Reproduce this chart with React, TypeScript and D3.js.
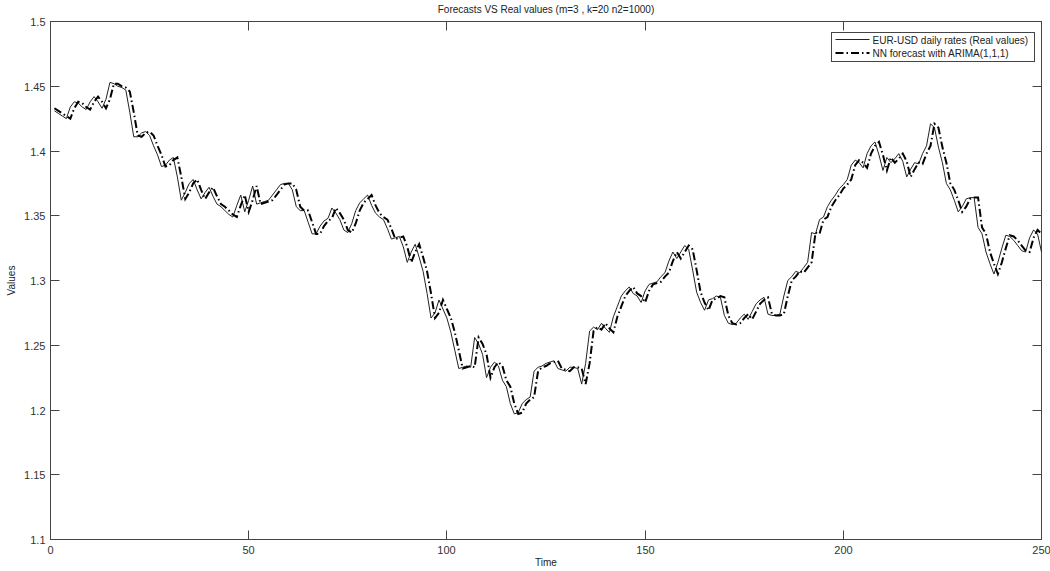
import { useEffect, useRef } from "react";
import * as d3 from "d3";

// EUR-USD daily rates (real values), t = 1..250
const realValues = [
  1.431, 1.429, 1.427, 1.425, 1.434, 1.438, 1.437, 1.434, 1.432, 1.438,
  1.442, 1.438, 1.433, 1.44, 1.453, 1.452, 1.45, 1.449, 1.447, 1.43,
  1.411, 1.411, 1.414, 1.415, 1.412, 1.404, 1.397, 1.388, 1.389, 1.393,
  1.395, 1.38, 1.362, 1.368, 1.375, 1.378, 1.37, 1.363, 1.368, 1.372,
  1.365, 1.359, 1.357, 1.354, 1.351, 1.349, 1.358, 1.366, 1.353, 1.362,
  1.373, 1.359, 1.36, 1.361, 1.362, 1.366, 1.37, 1.374, 1.375, 1.375,
  1.37, 1.357, 1.354, 1.354, 1.345, 1.336, 1.336, 1.342, 1.346, 1.348,
  1.356, 1.352, 1.347, 1.339, 1.337, 1.344, 1.354, 1.36, 1.363, 1.366,
  1.358, 1.352, 1.349, 1.347, 1.34, 1.332, 1.333, 1.334, 1.326, 1.314,
  1.322, 1.328, 1.318, 1.307, 1.29, 1.271, 1.275, 1.285, 1.278, 1.271,
  1.26, 1.246, 1.232, 1.233, 1.234, 1.233, 1.256, 1.251, 1.243, 1.225,
  1.233, 1.237, 1.234, 1.223, 1.218, 1.205, 1.197, 1.198, 1.205, 1.208,
  1.21, 1.23, 1.233, 1.234, 1.236, 1.237, 1.238, 1.232, 1.231, 1.23,
  1.233, 1.233, 1.232, 1.22, 1.236, 1.261, 1.264, 1.262, 1.267, 1.263,
  1.26, 1.272, 1.28, 1.288, 1.292, 1.295, 1.29, 1.288, 1.283, 1.292,
  1.297, 1.298, 1.299, 1.303, 1.306, 1.315, 1.322, 1.317, 1.322, 1.327,
  1.324, 1.308, 1.291, 1.283, 1.277, 1.285, 1.286, 1.288, 1.287, 1.273,
  1.267, 1.266, 1.267, 1.271, 1.274, 1.27, 1.276, 1.282, 1.285, 1.287,
  1.274, 1.273, 1.273, 1.274, 1.288, 1.3, 1.303, 1.307, 1.306, 1.31,
  1.314, 1.337, 1.336, 1.347, 1.349, 1.357, 1.362, 1.366, 1.371, 1.374,
  1.378, 1.389, 1.393, 1.391, 1.387, 1.398, 1.404, 1.407, 1.397, 1.385,
  1.395, 1.391, 1.394, 1.398, 1.392, 1.38, 1.386, 1.391, 1.39, 1.398,
  1.404, 1.421, 1.418, 1.403, 1.391, 1.375, 1.37, 1.362, 1.353, 1.357,
  1.363, 1.364, 1.364, 1.341, 1.336, 1.322, 1.313, 1.305, 1.314, 1.325,
  1.335, 1.334, 1.331, 1.327, 1.323, 1.322, 1.333, 1.339, 1.336, 1.322,
];

// NN forecast with ARIMA(1,1,1), t = 1..250
const forecastValues = [
  1.433, 1.431, 1.429, 1.427, 1.425, 1.433, 1.438, 1.437, 1.434, 1.432,
  1.438, 1.442, 1.438, 1.433, 1.44, 1.452, 1.452, 1.45, 1.449, 1.446,
  1.43, 1.412, 1.411, 1.414, 1.415, 1.412, 1.404, 1.397, 1.388, 1.389,
  1.393, 1.395, 1.38, 1.363, 1.368, 1.375, 1.378, 1.37, 1.363, 1.368,
  1.372, 1.365, 1.359, 1.357, 1.354, 1.351, 1.349, 1.358, 1.366, 1.353,
  1.362, 1.373, 1.359, 1.36, 1.361, 1.362, 1.366, 1.37, 1.374, 1.375,
  1.375, 1.37, 1.357, 1.354, 1.354, 1.345, 1.336, 1.336, 1.342, 1.346,
  1.348, 1.356, 1.352, 1.347, 1.339, 1.337, 1.344, 1.354, 1.36, 1.363,
  1.366, 1.358, 1.352, 1.349, 1.347, 1.34, 1.332, 1.333, 1.334, 1.326,
  1.314, 1.322, 1.328, 1.318, 1.307, 1.29, 1.271, 1.275, 1.285, 1.278,
  1.271, 1.26, 1.246, 1.232, 1.233, 1.234, 1.233, 1.256, 1.251, 1.243,
  1.225, 1.233, 1.237, 1.234, 1.223, 1.218, 1.205, 1.197, 1.198, 1.205,
  1.208, 1.21, 1.23, 1.233, 1.234, 1.236, 1.237, 1.238, 1.232, 1.231,
  1.23, 1.233, 1.233, 1.232, 1.22, 1.236, 1.261, 1.264, 1.262, 1.267,
  1.263, 1.26, 1.272, 1.28, 1.288, 1.292, 1.295, 1.29, 1.288, 1.283,
  1.292, 1.297, 1.298, 1.299, 1.303, 1.306, 1.315, 1.322, 1.317, 1.322,
  1.327, 1.324, 1.308, 1.291, 1.283, 1.277, 1.285, 1.286, 1.288, 1.287,
  1.273, 1.267, 1.266, 1.267, 1.271, 1.274, 1.27, 1.276, 1.282, 1.285,
  1.287, 1.274, 1.273, 1.273, 1.274, 1.288, 1.3, 1.303, 1.307, 1.306,
  1.31, 1.314, 1.337, 1.336, 1.347, 1.349, 1.357, 1.362, 1.366, 1.371,
  1.374, 1.378, 1.389, 1.393, 1.391, 1.387, 1.398, 1.404, 1.407, 1.397,
  1.385, 1.395, 1.391, 1.394, 1.398, 1.392, 1.38, 1.386, 1.391, 1.39,
  1.398, 1.404, 1.421, 1.418, 1.403, 1.391, 1.375, 1.37, 1.362, 1.353,
  1.357, 1.363, 1.364, 1.364, 1.341, 1.336, 1.322, 1.313, 1.305, 1.314,
  1.325, 1.335, 1.334, 1.331, 1.327, 1.323, 1.322, 1.333, 1.339, 1.336,
];

const xTicks = [0, 50, 100, 150, 200, 250];
const yTicks = [1.1, 1.15, 1.2, 1.25, 1.3, 1.35, 1.4, 1.45, 1.5];
const legendLabels = ["EUR-USD daily rates (Real values)", "NN forecast with ARIMA(1,1,1)"];

export default function App() {
  const svgRef = useRef<SVGSVGElement | null>(null);

  useEffect(() => {
    if (!svgRef.current) return;
    const root = d3.select(svgRef.current);
    root.selectAll("*").remove();

    const width = 1050;
    const height = 571;
    const margin = { top: 21.5, right: 8.5, bottom: 31.5, left: 50.5 };
    const innerWidth = width - margin.left - margin.right;
    const innerHeight = height - margin.top - margin.bottom;
    const font = "Arial, 'Liberation Sans', sans-serif";
    const axisColor = "#444";

    root.append("rect").attr("width", width).attr("height", height).attr("fill", "#fff");

    const svg = root.append("g").attr("transform", `translate(${margin.left},${margin.top})`);

    const x = d3.scaleLinear().domain([0, 250]).range([0, innerWidth]);
    const y = d3.scaleLinear().domain([1.1, 1.5]).range([innerHeight, 0]);

    // axes box
    svg.append("rect")
      .attr("width", innerWidth)
      .attr("height", innerHeight)
      .attr("fill", "none")
      .attr("stroke", axisColor)
      .attr("stroke-width", 1);

    // ticks (inward, mirrored on all sides)
    const tickLen = 9;
    xTicks.forEach((t) => {
      const px = Math.round(x(t));
      svg.append("line").attr("x1", px).attr("x2", px).attr("y1", innerHeight).attr("y2", innerHeight - tickLen).attr("stroke", axisColor);
      svg.append("line").attr("x1", px).attr("x2", px).attr("y1", 0).attr("y2", tickLen).attr("stroke", axisColor);
      svg.append("text")
        .attr("x", px)
        .attr("y", innerHeight + 14)
        .attr("text-anchor", "middle")
        .attr("font-family", font)
        .attr("font-size", "11px")
        .attr("fill", "#333")
        .text(t);
    });
    yTicks.forEach((t) => {
      const py = Math.round(y(t));
      svg.append("line").attr("x1", 0).attr("x2", tickLen).attr("y1", py).attr("y2", py).attr("stroke", axisColor);
      svg.append("line").attr("x1", innerWidth).attr("x2", innerWidth - tickLen).attr("y1", py).attr("y2", py).attr("stroke", axisColor);
      svg.append("text")
        .attr("x", -5)
        .attr("y", py + 4)
        .attr("text-anchor", "end")
        .attr("font-family", font)
        .attr("font-size", "11px")
        .attr("fill", "#333")
        .text(d3.format("~g")(t));
    });

    const line = d3.line<number>()
      .x((_, i) => x(i + 1))
      .y((d) => y(d));

    // real values: thin solid
    svg.append("path")
      .datum(realValues)
      .attr("d", line)
      .attr("fill", "none")
      .attr("stroke", "#222")
      .attr("stroke-width", 1);

    // forecast: thick dash-dot
    svg.append("path")
      .datum(forecastValues)
      .attr("d", line)
      .attr("fill", "none")
      .attr("stroke", "#000")
      .attr("stroke-width", 2)
      .attr("stroke-dasharray", "8,3,1.5,3");

    // title and labels
    root.append("text")
      .attr("x", margin.left + innerWidth / 2)
      .attr("y", 13)
      .attr("text-anchor", "middle")
      .attr("font-family", font)
      .attr("font-size", "10px")
      .attr("fill", "#222")
      .text("Forecasts VS Real values (m=3 , k=20 n2=1000)");

    root.append("text")
      .attr("x", margin.left + innerWidth / 2)
      .attr("y", 566)
      .attr("text-anchor", "middle")
      .attr("font-family", font)
      .attr("font-size", "10px")
      .attr("fill", "#222")
      .text("Time");

    root.append("text")
      .attr("transform", `translate(15,${margin.top + innerHeight / 2}) rotate(-90)`)
      .attr("text-anchor", "middle")
      .attr("font-family", font)
      .attr("font-size", "10px")
      .attr("fill", "#222")
      .text("Values");

    // legend
    const legend = root.append("g").attr("transform", "translate(831.5,32.5)");
    legend.append("rect")
      .attr("width", 203)
      .attr("height", 29)
      .attr("fill", "#fff")
      .attr("stroke", axisColor);
    legendLabels.forEach((label, i) => {
      const ly = 7 + i * 13.5;
      legend.append("line")
        .attr("x1", 4)
        .attr("x2", 38)
        .attr("y1", ly)
        .attr("y2", ly)
        .attr("stroke", i === 0 ? "#222" : "#000")
        .attr("stroke-width", i === 0 ? 1 : 2)
        .attr("stroke-dasharray", i === 0 ? null : "8,3,1.5,3");
      legend.append("text")
        .attr("x", 41)
        .attr("y", ly + 4)
        .attr("font-family", font)
        .attr("font-size", "10px")
        .attr("fill", "#222")
        .text(label);
    });
  }, []);

  return (
    <svg
      ref={svgRef}
      width={1050}
      height={571}
      style={{ position: "fixed", top: 0, left: 0, display: "block" }}
    />
  );
}
